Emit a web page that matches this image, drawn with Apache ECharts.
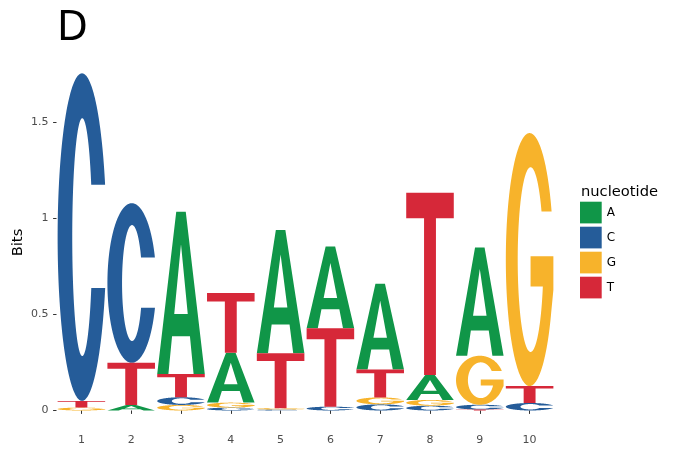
<!DOCTYPE html>
<html>
<head>
<meta charset="utf-8">
<script src="https://cdn.jsdelivr.net/npm/echarts@6/dist/echarts.min.js"></script>
<style>
html,body{margin:0;padding:0;background:#fff;}
#chart{width:687px;height:457px;}
</style>
</head>
<body>
<div id="chart"></div>
<script>
// ---- data (bits per nucleotide at each position) ----
const positions = ['1','2','3','4','5','6','7','8','9','10'];
const nucleotides = ['A','C','G','T'];
const bitsA = [0, 0.029, 0.845, 0.259, 0.642, 0.425, 0.446, 0.130, 0.564, 0];
const bitsC = [1.705, 0.831, 0.040, 0.015, 0.005, 0.020, 0.032, 0.025, 0.025, 0.039];
const bitsG = [0.015, 0, 0.029, 0.026, 0.007, 0, 0.036, 0.030, 0.255, 1.317];
const bitsT = [0.035, 0.219, 0.121, 0.311, 0.286, 0.408, 0.146, 0.949, 0.005, 0.088];
const yTicks = [0, 0.5, 1, 1.5];
const chartTitle = 'D';
const legendTitle = 'nucleotide';
const yName = 'Bits';

const colors = {A:'#109648', C:'#255C99', G:'#F7B32B', T:'#D62839'};
const bits = {A:bitsA, C:bitsC, G:bitsG, T:bitsT};

// ---- letter glyph outlines in a 100x100 box (style only) ----
function arc(cx, cy, rx, ry, a0, a1) {
  const n = Math.max(2, Math.ceil(Math.abs(a1 - a0) / 1));
  const pts = [];
  for (let i = 0; i <= n; i++) {
    const a = (a0 + (a1 - a0) * i / n) * Math.PI / 180;
    pts.push([cx + rx * Math.cos(a), cy + ry * Math.sin(a)]);
  }
  return pts;
}
function toPath(pts) {
  return 'M' + pts.map(p => p[0].toFixed(2) + ',' + p[1].toFixed(2)).join(' L') + ' Z';
}
const deg = v => v * 180 / Math.PI;
function makeC() {
  const ocx = 50, ocy = 50, orx = 50, ory = 50;
  const icx = 50.5, icy = 50, irx = 20.5, iry = 36.3;
  const yTop = 34, yBot = 65.5;
  const oTop = -deg(Math.asin((ocy - yTop) / ory));
  const oBot = deg(Math.asin((yBot - ocy) / ory)) - 360;
  const iTop = -deg(Math.asin((icy - yTop) / iry));
  const iBot = deg(Math.asin((yBot - icy) / iry)) - 360;
  const pts = arc(ocx, ocy, orx, ory, oTop, oBot).concat(arc(icx, icy, irx, iry, iBot, iTop));
  return toPath(pts);
}
function makeG() {
  const ocx = 50, ocy = 50, orx = 50, ory = 50;
  const icx = 52, icy = 50, irx = 27, iry = 36.5;
  const yTerm = 31, barTop = 48.7, barBot = 60.6, barLeft = 52;
  const oTop = -deg(Math.asin((ocy - yTerm) / ory));
  const oEnd = 25 - 360;
  let pts = arc(ocx, ocy, orx, ory, oTop, oEnd);
  pts.push([100, 62], [100, barTop], [barLeft, barTop], [barLeft, barBot]);
  const iStart = deg(Math.asin((barBot - icy) / iry));
  const iEnd = 360 - deg(Math.asin((icy - yTerm) / iry));
  pts = pts.concat(arc(icx, icy, irx, iry, iStart, iEnd));
  return toPath(pts);
}
const PATHS = {
  A: 'M0,100 L40,0 L60,0 L100,100 L76.5,100 L68.8,76.7 L31.2,76.7 L23.5,100 Z M35.8,63 L64.2,63 L50,20 Z',
  C: makeC(),
  G: makeG(),
  T: 'M0,0 L100,0 L100,14 L62.5,14 L62.5,100 L37.5,100 L37.5,14 L0,14 Z'
};
const LETTER_W = 0.955;

// ---- stack letters (smallest at bottom) ----
const stacked = {A:[], C:[], G:[], T:[]};
positions.forEach((p, i) => {
  const order = nucleotides.slice().sort((a, b) => bits[a][i] - bits[b][i]);
  let base = 0;
  order.forEach(n => {
    const h = bits[n][i];
    if (h > 0) stacked[n].push([i, base, base + h]);
    base += h;
  });
});

function renderLetter(letter) {
  return function (params, api) {
    const x = api.value(0), y0 = api.value(1), y1 = api.value(2);
    const top = api.coord([x, y1]);
    const bot = api.coord([x, y0]);
    const bw = api.size([1, 0])[0] * LETTER_W;
    const h = bot[1] - top[1];
    if (h <= 0) return null;
    return {
      type: 'path',
      shape: {pathData: PATHS[letter], x: top[0] - bw / 2, y: top[1], width: bw, height: h, layout: 'cover'},
      style: {fill: colors[letter]}
    };
  };
}

const chart = echarts.init(document.getElementById('chart'), null, {renderer: 'canvas'});
chart.setOption({
  animation: false,
  backgroundColor: '#ffffff',
  textStyle: {fontFamily: 'DejaVu Sans'},
  title: [
    {text: chartTitle, left: 57, top: 10, padding: 0,
     textStyle: {fontSize: 40, fontWeight: 'normal', color: '#000', fontFamily: 'DejaVu Sans'}},
    {text: legendTitle, left: 581, top: 185, padding: 0,
     textStyle: {fontSize: 14.7, fontWeight: 'normal', color: '#000', fontFamily: 'DejaVu Sans'}}
  ],
  graphic: [{
    type: 'text', x: 18.5, y: 242.5, rotation: Math.PI / 2, silent: true,
    style: {text: yName, fontSize: 14.7, fontFamily: 'DejaVu Sans', fill: '#000',
            align: 'center', verticalAlign: 'middle'}
  }],
  legend: {
    orient: 'vertical', left: 580, top: 201.7, padding: 0,
    itemWidth: 21.7, itemHeight: 21.7, itemGap: 3.3, icon: 'rect',
    data: nucleotides,
    textStyle: {fontSize: 12, color: '#000', fontFamily: 'DejaVu Sans'},
    selectedMode: false
  },
  grid: {left: 56.5, right: 132.5, top: 64.7, bottom: 29.7, containLabel: false, outerBoundsMode: 'none'},
  xAxis: {
    type: 'category', data: positions, boundaryGap: true,
    axisLine: {show: false},
    axisTick: {show: true, alignWithLabel: true, length: 3.4, lineStyle: {color: '#333333', width: 1}},
    axisLabel: {color: '#4D4D4D', fontSize: 11, margin: 7, fontFamily: 'DejaVu Sans'},
    splitLine: {show: false}
  },
  yAxis: {
    type: 'value', min: -0.0875, max: 1.8,
    axisLine: {show: false},
    axisTick: {show: true, length: 3.4, customValues: yTicks, lineStyle: {color: '#333333', width: 1}},
    axisLabel: {color: '#4D4D4D', fontSize: 11, margin: 8, customValues: yTicks, fontFamily: 'DejaVu Sans'},
    splitLine: {show: false}
  },
  series: nucleotides.map(n => ({
    name: n, type: 'custom',
    itemStyle: {color: colors[n]},
    encode: {x: 0, y: [1, 2]},
    renderItem: renderLetter(n),
    data: stacked[n]
  }))
});
</script>
</body>
</html>
